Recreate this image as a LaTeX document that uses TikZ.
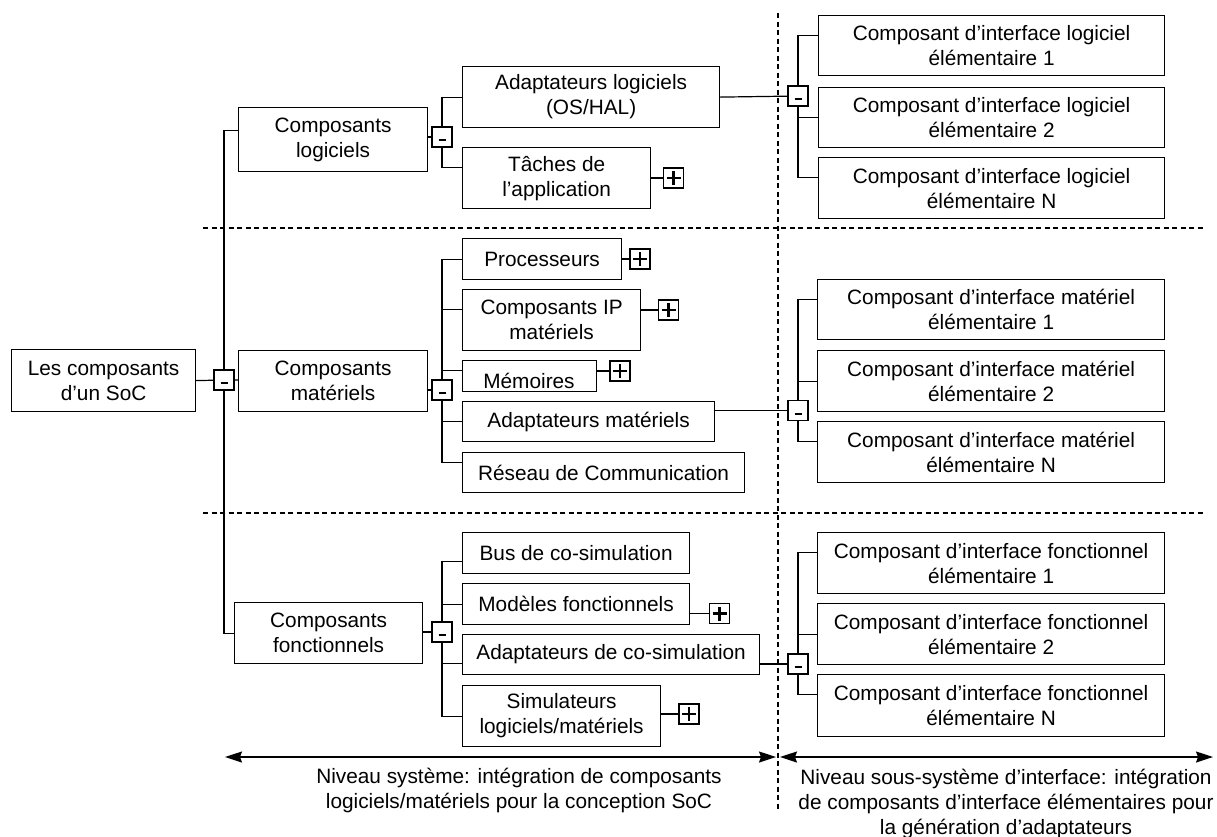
\documentclass[tikz,border=0pt]{standalone}
\usepackage{fontspec}
\setmainfont{Liberation Sans}
\usetikzlibrary{arrows.meta,backgrounds,calc}
\newcommand\dfont{\fontsize{20.8pt}{25pt}\selectfont}
\tikzset{
  bx/.style={draw, line width=1.2pt, fill=white, inner sep=0pt, align=center, font=\dfont, anchor=north west},
  mbox/.style={draw, line width=1.2pt, fill=white, minimum size=20pt, inner sep=0pt,
    path picture={\draw[line width=2pt] ([xshift=-3.5pt,yshift=-3pt]path picture bounding box.center) -- ([xshift=3.5pt,yshift=-3pt]path picture bounding box.center);}},
  pbox/.style={draw, line width=1.2pt, fill=white, minimum size=20pt, inner sep=0pt,
    path picture={\draw[line width=2.2pt] ([xshift=-7pt]path picture bounding box.center) -- ([xshift=7pt]path picture bounding box.center) ([yshift=-7pt]path picture bounding box.center) -- ([yshift=7pt]path picture bounding box.center);}},
  ln/.style={line width=1.2pt},
  dsh/.style={line width=1.1pt, dash pattern=on 5pt off 3.5pt},
  arr/.style={line width=1.3pt, {Stealth[length=17pt,width=11pt,inset=2pt]}-{Stealth[length=17pt,width=11pt,inset=2pt]}},
  txt/.style={font=\dfont, align=center, inner sep=0pt}
}
\begin{document}
\begin{tikzpicture}[x=1pt,y=-1pt]
\useasboundingbox (0,0) rectangle (1217,836);
% left column
\node[bx, minimum width=184pt, minimum height=62pt] (soc) at (11,349) {Les composants\\d’un SoC};
\node[mbox] (m0) at (224,380) {};
\node[bx, minimum width=189pt, minimum height=64pt] (lg) at (238,107) {Composants\\logiciels};
\node[bx, minimum width=189pt, minimum height=61pt] (mt) at (238,350) {Composants\\matériels};
\node[bx, minimum width=188pt, minimum height=61pt] (fc) at (234,602) {Composants\\fonctionnels};
% software
\node[mbox] (m1) at (442,137) {};
\node[bx, minimum width=257pt, minimum height=61pt] (adl) at (462,66) {Adaptateurs logiciels\\(OS/HAL)};
\node[bx, minimum width=188pt, minimum height=61pt] (tac) at (462,147) {Tâches de\\l’application};
\node[pbox] (p1) at (673.5,178) {};
\node[mbox] (m2) at (798,96) {};
\node[bx, minimum width=346pt, minimum height=60pt] (r1) at (818,15) {Composant d’interface logiciel\\élémentaire 1};
\node[bx, minimum width=346pt, minimum height=60pt] (r2) at (818,87) {Composant d’interface logiciel\\élémentaire 2};
\node[bx, minimum width=346pt, minimum height=61pt] (r3) at (818,157) {Composant d’interface logiciel\\élémentaire N};
% hardware
\node[mbox] (m3) at (442,390) {};
\node[bx, minimum width=159pt, minimum height=41pt] (pr) at (462,238) {Processeurs};
\node[pbox] (p2) at (640,259) {};
\node[bx, minimum width=178pt, minimum height=61pt] (ip) at (462,289) {Composants IP\\matériels};
\node[pbox] (p3) at (668.5,310) {};
\node[bx, minimum width=134pt, minimum height=31pt] (me) at (462,360) {};
\node[txt, anchor=base] (met) at (529,388) {Mémoires};
\node[pbox] (p4) at (620,371) {};
\node[bx, minimum width=252pt, minimum height=40pt] (am) at (462,401) {Adaptateurs matériels};
\node[mbox] (m4) at (798,410.5) {};
\node[bx, minimum width=282pt, minimum height=40pt] (rc) at (462,452) {Réseau de Communication};
\node[bx, minimum width=347pt, minimum height=60pt] (r4) at (817,279) {Composant d’interface matériel\\élémentaire 1};
\node[bx, minimum width=347pt, minimum height=61pt] (r5) at (817,350) {Composant d’interface matériel\\élémentaire 2};
\node[bx, minimum width=347pt, minimum height=61pt] (r6) at (817,421) {Composant d’interface matériel\\élémentaire N};
% functional
\node[mbox] (m5) at (442,632) {};
\node[bx, minimum width=227pt, minimum height=41pt] (bu) at (462,532) {Bus de co-simulation};
\node[bx, minimum width=227pt, minimum height=41pt] (mo) at (462,583) {Modèles fonctionnels};
\node[pbox] (p5) at (719.5,613.5) {};
\node[bx, minimum width=297pt, minimum height=40pt] (ac) at (462,634) {Adaptateurs de co-simulation};
\node[mbox] (m6) at (798,664) {};
\node[bx, minimum width=198pt, minimum height=61pt] (si) at (462,685) {Simulateurs\\logiciels/matériels};
\node[pbox] (p6) at (689,714) {};
\node[bx, minimum width=347pt, minimum height=61pt] (r7) at (817,532) {Composant d’interface fonctionnel\\élémentaire 1};
\node[bx, minimum width=347pt, minimum height=61pt] (r8) at (817,603) {Composant d’interface fonctionnel\\élémentaire 2};
\node[bx, minimum width=347pt, minimum height=62pt] (r9) at (817,674) {Composant d’interface fonctionnel\\élémentaire N};
% bottom
\coordinate (aL) at (225,757);
\coordinate (aM1) at (776,757);
\coordinate (aM2) at (780,757);
\coordinate (aR) at (1213,757);
\draw[arr] (aL) -- (aM1);
\draw[arr] (aM2) -- (aR);
\node[txt] (tL) at (519,790) {Niveau système: intégration de composants\\logiciels/matériels pour la conception SoC};
\node[txt] (tR) at (1006,803.5) {Niveau sous-système d’interface: intégration\\de composants d’interface élémentaires pour\\la génération d’adaptateurs};
\coordinate (vT) at (778,13);
\coordinate (vB) at (778,810);
\coordinate (h1L) at (203,228);
\coordinate (h1R) at (1205,228);
\coordinate (h2L) at (203,513);
\coordinate (h2R) at (1205,513);
\begin{scope}[on background layer]
\draw[dsh] (vT) -- (vB);
\draw[dsh] (h1L) -- (h1R);
\draw[dsh] (h2L) -- (h2R);
% root
\draw[ln] (soc.east) -- (m0.center) -- (mt.west |- m0);
\draw[ln] ([yshift=9pt]lg.west) -| (m0.center) |- (fc.west);
% software
\draw[ln] (lg.east |- m1) -- (m1);
\draw[ln] (adl.west) -| (m1.center) |- ([yshift=10.5pt]tac.west);
\draw[ln] (tac.east |- p1) -- (p1);
\draw[ln] (adl.east) -- (m2);
\draw[ln] ([yshift=10pt]r1.west) -| (m2.center) |- ([yshift=10.5pt]r3.west);
\draw[ln] (r2.west) -| (m2.center);
% hardware
\draw[ln] (mt.east |- m3) -- (m3);
\draw[ln] (pr.west) -| (m3.center) |- ([yshift=10pt]rc.west);
\draw[ln] ([yshift=10.5pt]ip.west) -| (m3.center);
\draw[ln] ([yshift=5.5pt]me.west) -| (m3.center);
\draw[ln] (am.west) -| (m3.center);
\draw[ln] (pr.east |- p2) -- (p2);
\draw[ln] (ip.east |- p3) -- (p3);
\draw[ln] (me.east |- p4) -- (p4);
\draw[ln] (am.east |- m4) -- (m4);
\draw[ln] ([yshift=10pt]r4.west) -| (m4.center) |- ([yshift=10.5pt]r6.west);
\draw[ln] (r5.west) -| (m4.center);
% functional
\draw[ln] (fc.east |- m5) -- (m5);
\draw[ln] ([yshift=-8.5pt]bu.west) -| (m5.center) |- (si.west);
\draw[ln] (mo.west) -| (m5.center);
\draw[ln] ([yshift=-9pt]ac.west) -| (m5.center);
\draw[ln] (mo.east |- p5) -- (p5);
\draw[ln] (si.east |- p6) -- (p6);
\draw[ln] (ac.east |- m6) -- (m6);
\draw[ln] ([yshift=10.5pt]r7.west) -| (m6.center) |- ([yshift=11pt]r9.west);
\draw[ln] (r8.west) -| (m6.center);
\end{scope}
\end{tikzpicture}
\end{document}
